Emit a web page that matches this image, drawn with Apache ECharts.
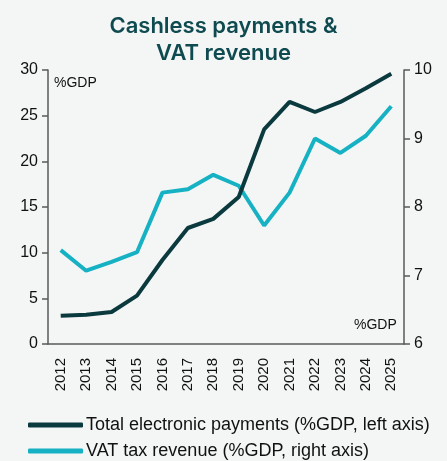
<!DOCTYPE html>
<html>
<head>
<meta charset="utf-8">
<script src="https://cdn.jsdelivr.net/npm/echarts@6/dist/echarts.min.js"></script>
<style>
  html, body { margin: 0; padding: 0; background: #f4f6f6; }
  #chart { width: 447px; height: 461px; }
</style>
</head>
<body>
<div id="chart"></div>
<script>
// Years on the category axis
const years = ['2012','2013','2014','2015','2016','2017','2018','2019','2020','2021','2022','2023','2024','2025'];
// Total electronic payments, %GDP (left axis)
const electronicPayments = [3.1, 3.2, 3.5, 5.3, 9.2, 12.7, 13.7, 16.1, 23.5, 26.5, 25.4, 26.5, 28.0, 29.6];
// VAT tax revenue, %GDP (right axis)
const vatRevenue = [7.37, 7.07, 7.2, 7.34, 8.21, 8.26, 8.47, 8.31, 7.73, 8.21, 9.0, 8.79, 9.04, 9.47];
// Axis tick values
const leftTicks = [0, 5, 10, 15, 20, 25, 30];
const rightTicks = [6, 7, 8, 9, 10];

const paymentsName = 'Total electronic payments (%GDP, left axis)';
const vatName = 'VAT tax revenue (%GDP, right axis)';

const darkColor = '#0b3a3e';
const tealColor = '#16b2c3';
const axisGrey = '#595959';
const font = 'Liberation Sans, Arial, sans-serif';

// One legend block per row, stacked under the axis labels
function legendRow(name, top) {
  return {
    left: 28,
    top: top,
    padding: 0,
    itemWidth: 55,
    itemHeight: 5,
    icon: 'roundRect',
    textStyle: { fontFamily: font, fontSize: 18, color: '#111', padding: [0, 0, 0, -2] },
    data: [name]
  };
}

const chart = echarts.init(document.getElementById('chart'));
chart.setOption({
  backgroundColor: '#f4f6f6',
  animation: false,
  title: {
    text: 'Cashless payments &\nVAT revenue',
    left: 'center',
    top: 8,
    textStyle: {
      fontFamily: 'Inter, Open Sans, sans-serif',
      fontWeight: 600,
      fontSize: 22,
      lineHeight: 27,
      color: '#0e4a4f'
    }
  },
  grid: { left: 48, right: 43, top: 70, bottom: 117 },
  legend: [legendRow(paymentsName, 416), legendRow(vatName, 442)],
  xAxis: {
    type: 'category',
    data: years,
    boundaryGap: true,
    axisLine: { lineStyle: { color: axisGrey, width: 1.5 } },
    axisTick: { show: false },
    axisLabel: { rotate: 90, fontFamily: font, fontSize: 15, color: '#111', margin: 14 }
  },
  yAxis: [
    {
      type: 'value',
      min: leftTicks[0],
      max: leftTicks[leftTicks.length - 1],
      interval: 5,
      splitLine: { show: false },
      axisLine: { show: true, lineStyle: { color: axisGrey, width: 1.5 } },
      axisTick: { show: true, length: 6, lineStyle: { color: axisGrey, width: 1.5 } },
      axisLabel: { fontFamily: font, fontSize: 16, color: '#111', margin: 10 }
    },
    {
      type: 'value',
      position: 'right',
      min: rightTicks[0],
      max: rightTicks[rightTicks.length - 1],
      interval: 1,
      splitLine: { show: false },
      axisLine: { show: true, lineStyle: { color: axisGrey, width: 1.5 } },
      axisTick: { show: true, length: 6, lineStyle: { color: axisGrey, width: 1.5 } },
      axisLabel: { fontFamily: font, fontSize: 16, color: '#111', margin: 10 }
    }
  ],
  graphic: [
    { type: 'text', left: 54, top: 76, style: { text: '%GDP', fontFamily: font, fontSize: 14, fill: '#111' } },
    { type: 'text', left: 354, top: 318, style: { text: '%GDP', fontFamily: font, fontSize: 14, fill: '#111' } }
  ],
  series: [
    {
      name: vatName,
      type: 'line',
      yAxisIndex: 1,
      data: vatRevenue,
      symbol: 'none',
      lineStyle: { color: tealColor, width: 4 },
      itemStyle: { color: tealColor }
    },
    {
      name: paymentsName,
      type: 'line',
      yAxisIndex: 0,
      data: electronicPayments,
      symbol: 'none',
      lineStyle: { color: darkColor, width: 4 },
      itemStyle: { color: darkColor }
    }
  ]
});
</script>
</body>
</html>
